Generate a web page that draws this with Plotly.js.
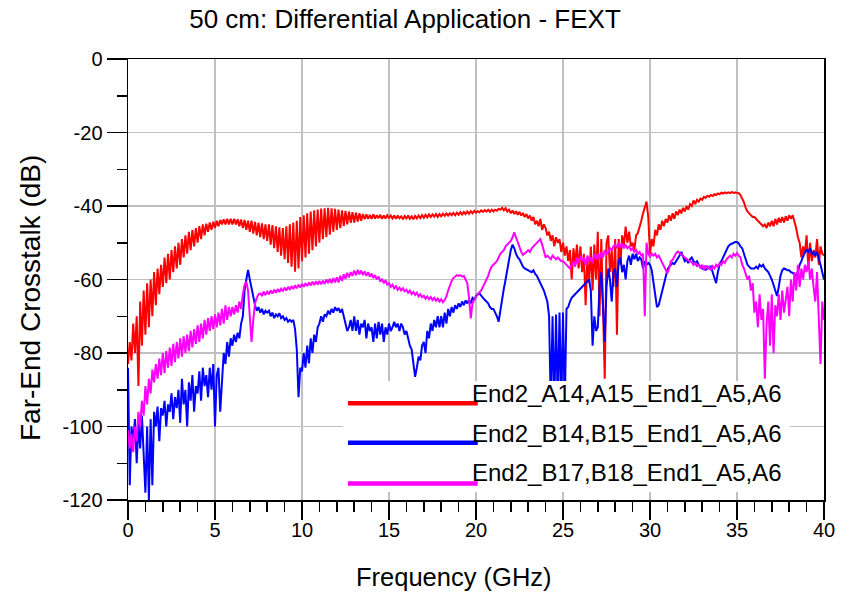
<!DOCTYPE html>
<html>
<head>
<meta charset="utf-8">
<script src="https://cdn.plot.ly/plotly-3.0.1.min.js"></script>
<style>
html,body{margin:0;padding:0;background:#fff;}
#chart{width:841px;height:594px;}
</style>
</head>
<body>
<div id="chart"></div>
<script>
// ---------- data ----------
const chartTitle = '50 cm: Differential Application - FEXT';
const xAxisTitle = 'Frequency (GHz)';
const yAxisTitle = 'Far-End Crosstalk (dB)';
const seriesNames = ['End2_A14,A15_End1_A5,A6', 'End2_B14,B15_End1_A5,A6', 'End2_B17,B18_End1_A5,A6'];
const seriesColors = ['#ff0000', '#0000ff', '#ff00ff'];

// frequency sampling grid: 0 to 40 GHz, 0.1 GHz step
const freqStart = 0, freqStep = 0.1, freqCount = 401;
const freq = [];
for (let i = 0; i < freqCount; i++) freq.push(+(freqStart + i * freqStep).toFixed(1));

// End2_A14,A15_End1_A5,A6 (dB), one row per GHz
const fextA14A15 = [
-83,-77,-82,-72,-80,-70,-89,-66,-78,-63,
-75,-61,-73,-60,-70,-58,-67,-57,-64,-56,
-62,-54,-61,-53,-60,-52,-58,-51,-57,-50,
-56,-49,-54,-48,-53,-47,-52,-46.5,-51,-46,
-50,-45.5,-49,-45,-48,-44.8,-47,-44.5,-46.5,-44.3,
-46,-44,-45.5,-43.8,-45,-43.6,-45,-43.5,-45,-43.5,
-45,-43.5,-45,-43.6,-45.5,-43.7,-46,-43.8,-46.5,-44,
-47,-44,-47.5,-44.3,-48,-44.5,-48.5,-44.7,-49,-45,
-49.5,-45,-50.5,-45.2,-51.5,-45.5,-52.5,-45.8,-53.5,-46,
-54.5,-45.5,-55.5,-45,-56.5,-44.5,-57.9,-44,-57,-43,
-55,-42.5,-54,-42,-53,-41.5,-52,-41.2,-51,-41,
-50,-40.7,-49,-40.6,-48.5,-40.5,-47.8,-40.6,-47,-40.8,
-46.5,-41,-46,-41.2,-45.5,-41.3,-45,-41.5,-44.6,-41.7,
-44.5,-41.8,-44.2,-42,-44,-42.2,-43.6,-42.3,-43.5,-42.4,
-43.5,-42.3,-43.4,-42.5,-43.3,-42.4,-43.5,-42.6,-43.4,-42.5,
-43.2,-42.6,-43.4,-42.6,-43.5,-42.7,-43.3,-42.8,-43.6,-42.7,
-43.4,-42.6,-43.5,-42.8,-43.6,-42.7,-43.4,-42.6,-43.3,-42.5,
-43.2,-42.4,-43.1,-42.3,-43,-42.3,-42.9,-42.2,-43,-42.2,
-42.8,-42.1,-42.7,-42,-42.6,-42,-42.5,-41.9,-42.5,-41.8,
-42.4,-41.7,-42.3,-41.6,-42.2,-41.5,-42.1,-41.4,-42,-41.3,
-41.8,-41.4,-41.7,-41.2,-41.6,-41.1,-41.5,-41,-41.6,-41,
-41.5,-41,-41.3,-40.8,-41,-40.5,-41.2,-40.6,-41.5,-41,
-42,-41.2,-42.2,-41.4,-42.4,-41.6,-42.6,-41.9,-43,-42.2,
-43.4,-42.6,-44,-43,-45,-44,-45.5,-43.5,-46.5,-45,
-46,-48,-47,-49.5,-48,-51,-48.5,-50,-49,-52.5,
-50,-53.5,-51,-55,-52,-60,-51.5,-56,-50.5,-57,
-51,-58,-53,-67,-54,-61,-51,-63,-50.5,-60,
-47,-70,-49,-68,-87,-50,-48,-58,-52,-62,
-49,-75,-49,-56,-48,-51,-45.6,-50,-47,-51,
-50,-52,-48,-47.4,-46,-44,-42,-40,-38.8,-43,
-53,-49,-51,-46.5,-48,-45,-46.5,-44,-45.5,-43.5,
-44.5,-42.5,-44,-42,-43.5,-41.5,-42.5,-41,-42,-40.5,
-41.5,-40,-41,-39.5,-40,-38.5,-39.5,-38.3,-38.8,-38,
-38.3,-37.5,-37.8,-37.2,-37.5,-37,-37.3,-36.8,-37,-36.6,
-36.8,-36.4,-36.6,-36.3,-36.5,-36.3,-36.5,-36.2,-36.4,-36.3,
-36.3,-36.5,-37,-37.8,-39,-40.5,-41.5,-42,-42.5,-43,
-43,-43.5,-44,-44.5,-45,-45.5,-45,-46,-44.5,-45.5,
-44,-45.5,-43.5,-45,-43.2,-44.5,-43,-44.5,-42.8,-44,
-42.5,-43.5,-42.5,-44,-46,-48.5,-50,-54,-51,-53,
-48,-57,-50,-55,-52,-54,-49,-56,-51,-53,
-53.5
];

// End2_B14,B15_End1_A5,A6 (dB)
const fextB14B15 = [
-84,-116,-100,-104,-98,-110,-99,-106,-97,-108,
-118,-100,-120,-98,-116,-96,-100,-94.6,-104,-95,
-97,-93,-100,-94,-96,-91,-98,-92,-95,-90,
-99,-87,-94,-90,-100,-88,-93,-86,-96,-89,
-91,-85,-93,-84,-89,-86,-92,-84,-90,-83,
-100,-86,-84,-96,-88,-80,-83,-77,-81,-76,
-78,-75,-77,-74.5,-76,-72,-70,-63,-60,-57.4,
-60,-62.5,-65,-67,-68.5,-67.5,-69,-68,-69.5,-68.5,
-69,-68.5,-70,-69,-70.5,-69.5,-70,-69.2,-70.5,-70,
-71,-70.5,-71.5,-71,-71.5,-71,-73.5,-79,-92,-84,
-85,-80,-84,-78,-82.8,-76,-80,-75,-77,-73,
-72,-70,-71.5,-69.5,-70,-68.5,-69.5,-68,-69,-67.5,
-68.5,-67.8,-69,-68,-70,-72,-74,-73,-71,-74,
-70,-74,-71,-75,-72,-73,-71,-76,-72,-74,
-73,-77,-72,-76,-71.5,-75,-72,-77,-73,-75,
-72,-74,-73,-71.5,-73,-72,-74,-72,-73,-75,
-74,-76,-78,-79,-83,-86.5,-84,-81,-82,-78,
-77,-80,-74,-76,-72,-74,-71,-73,-70,-73,
-70,-73,-69,-72,-68,-70,-67.5,-69,-67,-68,
-66.5,-67.5,-66,-67,-65.7,-66.5,-65.5,-66.5,-65,-65.5,
-64.5,-64,-63.8,-64.5,-65,-65.5,-66,-66.5,-67.5,-68,
-68,-69,-70,-71.5,-68,-65,-62.5,-60,-57,-54,
-52,-50.5,-51.5,-53,-54,-54.5,-55.5,-56.5,-57,-57.3,
-57.5,-57.8,-58,-57.5,-58.5,-59,-60,-61,-62,-63,
-64.5,-66,-70,-95,-70,-95,-69.5,-95,-69,-95,
-69,-95,-68,-67.5,-66,-65,-64.5,-64,-63.5,-63,
-62.5,-62,-61.5,-61,-60.5,-60,-63,-78,-70,-74,
-73,-62,-58,-67,-77,-62,-57,-60,-66,-58,
-57,-62,-55,-54,-58,-56,-60,-55,-53.5,-56,
-53,-54.5,-53,-55,-54,-54.5,-57,-55,-56,-55.5,
-56,-57.5,-61,-65,-67.5,-67,-65,-63,-61,-59,
-57.4,-56.5,-56,-55.5,-55.8,-55,-54.5,-53.5,-52.5,-54,
-55,-54.5,-55.5,-54.5,-54,-55,-55.5,-55,-56,-56.5,
-57,-56.5,-57.5,-56.5,-57,-56.5,-58,-59.5,-61,-58,
-56,-55,-54,-53,-52,-51,-50.5,-50.2,-50,-49.8,
-49.8,-50.2,-51,-51.5,-53,-54.5,-56,-56.5,-57,-57,
-57,-56.5,-57,-56,-56.5,-56,-57,-57.5,-58,-59,
-60,-61.5,-63,-64.5,-62,-59,-57.5,-57,-57.2,-57.5,
-57.5,-58,-58.2,-58.5,-59,-58,-56,-55,-53.5,-52.5,
-52,-52.5,-51.5,-53,-52.5,-53.5,-52.5,-54,-56,-58,
-60
];

// End2_B17,B18_End1_A5,A6 (dB)
const fextB17B18 = [
-101,-106,-102,-107,-100,-104,-96,-100,-93,-97,
-89,-94,-87,-91,-84.5,-88,-83,-87,-81.5,-86,
-80,-85.5,-79.5,-84,-78.5,-83.5,-77.5,-82.5,-77,-81.5,
-76,-81,-75.5,-80,-75,-79.5,-74,-78.5,-73.5,-77.5,
-72.5,-77,-72,-76,-71,-75,-70.5,-74,-70,-73.5,
-69.5,-73,-69,-72.5,-68,-72,-67,-71,-67.5,-70,
-67.5,-69.5,-67,-69,-66,-68,-64,-61.5,-60.6,-63,
-70,-77,-71,-66.5,-65,-64,-63.8,-64.5,-63.3,-64.2,
-63.3,-64,-63,-63.8,-62.8,-63.6,-62.6,-63.4,-62.5,-63.2,
-62.2,-63,-62,-62.8,-61.8,-62.6,-61.6,-62.4,-61.4,-62.2,
-61.2,-62,-61,-61.8,-60.8,-61.6,-60.6,-61.5,-60.5,-61.4,
-60.4,-61.3,-60.3,-61.2,-60,-61,-59.8,-61,-59.6,-60.8,
-59.4,-60.8,-59,-60.4,-58.6,-59.8,-58.2,-59.4,-58,-59,
-57.6,-58.8,-57.4,-58.6,-57.6,-58.8,-57.8,-59,-58,-59.2,
-58.4,-59.6,-58.8,-60,-59.2,-60.6,-59.8,-61,-60.2,-61.4,
-61,-62,-61.4,-62.4,-61.8,-62.8,-62.2,-63,-62.4,-63.2,
-62.8,-63.6,-63,-64,-63.4,-64.2,-63.6,-64.6,-64,-64.8,
-64.4,-65.2,-64.6,-65.4,-64.8,-65.6,-65,-65.8,-65.2,-66,
-65.4,-66.2,-65.6,-64.6,-63,-61.5,-60.4,-59.6,-59.2,-58.8,
-59,-58.8,-59.2,-59,-60,-61,-65,-70.6,-66.5,-65.5,
-64.7,-64,-63.5,-63,-62,-61,-60,-59,-57.5,-56.5,
-56,-55.5,-55,-54,-53,-52.5,-52,-51,-50.5,-50,
-49.5,-48.5,-47.2,-48.5,-50,-51.5,-52.5,-53.3,-53,-52.5,
-52,-52.5,-51.5,-51,-50.5,-50,-49.5,-49,-50.5,-52,
-54,-53.5,-54,-54.5,-53.5,-54,-54.5,-54,-54.5,-55,
-55,-55.5,-56,-56.5,-57,-56,-55,-56.5,-54,-55.5,
-53.5,-55,-54,-56,-53.5,-55,-54,-55.5,-53,-54.5,
-53,-54.5,-52.5,-54,-52,-53,-52.5,-51.5,-52,-51,
-50.5,-51.5,-50,-51,-50.5,-51.5,-50.5,-51.5,-51,-52,
-51.5,-52.5,-52,-53,-52.5,-53.5,-53,-70,-50,-53,
-53.8,-53,-53.5,-53,-54,-53.5,-54.5,-55.5,-56.5,-57.5,
-58.3,-57,-55,-54.7,-53.5,-52.8,-52.4,-52.8,-53.2,-53.6,
-54,-54.5,-54.8,-55,-55.3,-56,-55.5,-56.5,-55.8,-57,
-56,-57.5,-56.2,-57,-56.5,-57.5,-56.4,-57,-56,-56.5,
-55.5,-56,-55,-55.5,-54.5,-54,-53.5,-54,-53,-53.5,
-52.8,-53.5,-54,-56,-57,-58.5,-60,-59,-63,-61,
-69,-66,-73,-64,-71,-68,-87,-72,-66,-78,
-64,-80,-67,-70,-64,-71,-63,-69,-65,-62,
-70,-60,-66,-58,-63,-56,-62,-57,-60,-56,
-58,-55,-60,-57,-62,-66,-58,-69,-83,-66,
-71
];

const seriesValues = [fextA14A15, fextB14B15, fextB17B18];

// axis ticks
const xTickVals = [0, 5, 10, 15, 20, 25, 30, 35, 40];
const xTickText = ['0', '5', '10', '15', '20', '25', '30', '35', '40'];
const yTickVals = [0, -20, -40, -60, -80, -100, -120];
const yTickText = ['0', '-20', '-40', '-60', '-80', '-100', '-120'];

// ---------- chart ----------
const FONT = 'Arial, "Liberation Sans", sans-serif';

const traces = seriesValues.map((vals, i) => ({
  type: 'scatter',
  mode: 'lines',
  name: seriesNames[i],
  x: freq,
  y: vals,
  line: {color: seriesColors[i], width: 2},
  showlegend: false,
  hoverinfo: 'skip'
}));

// custom legend (long line samples with labels above their right end)
const legendBox = {x0: 12.36, x1: 38.05, y0: -117.8, y1: -87.6};
const legendLineX = [12.64, 20.1];
const legendLineY = [-93.7, -104.4, -115.5];
const legendTextX = 19.66;
const legendTextY = [-90.9, -101.8, -112.4];

const shapes = [{
  type: 'rect', xref: 'x', yref: 'y', layer: 'above',
  x0: legendBox.x0, x1: legendBox.x1, y0: legendBox.y0, y1: legendBox.y1,
  fillcolor: '#ffffff', line: {width: 0}
}];
seriesNames.forEach((n, i) => {
  shapes.push({
    type: 'line', xref: 'x', yref: 'y', layer: 'above',
    x0: legendLineX[0], x1: legendLineX[1], y0: legendLineY[i], y1: legendLineY[i],
    line: {color: seriesColors[i], width: 4.5}
  });
});

const annotations = seriesNames.map((n, i) => ({
  xref: 'x', yref: 'y', x: legendTextX, y: legendTextY[i],
  text: n, showarrow: false, xanchor: 'left', yanchor: 'middle',
  font: {family: FONT, size: 24, color: '#000'}
}));
annotations.push({
  xref: 'paper', yref: 'paper', x: (454 - 128) / 696, y: (500 - 577) / 441,
  text: xAxisTitle, showarrow: false, xanchor: 'center', yanchor: 'middle',
  font: {family: FONT, size: 25.5, color: '#000'}
});
annotations.push({
  xref: 'paper', yref: 'paper', x: (30 - 128) / 696, y: (500 - 298) / 441,
  text: yAxisTitle, showarrow: false, textangle: -90, xanchor: 'center', yanchor: 'middle',
  font: {family: FONT, size: 28, color: '#000'}
});

const axisCommon = {
  showline: true, linecolor: '#000', linewidth: 1.5, mirror: true,
  showgrid: true, gridcolor: '#c0c0c0', gridwidth: 1.5,
  zeroline: false, ticks: 'outside', tickcolor: '#000', tickwidth: 1.5,
  tickfont: {family: FONT, size: 20, color: '#000'},
  fixedrange: true
};

const layout = {
  width: 841, height: 594,
  margin: {l: 128, r: 17, t: 59, b: 94, pad: 0},
  paper_bgcolor: '#ffffff', plot_bgcolor: '#ffffff',
  font: {family: FONT, color: '#000'},
  title: {
    text: chartTitle, xref: 'container', yref: 'container',
    x: 405 / 841, xanchor: 'center', y: 1 - 19 / 594, yanchor: 'middle',
    font: {family: FONT, size: 26, color: '#000'}
  },
  xaxis: Object.assign({}, axisCommon, {
    range: [0, 40], tickmode: 'array', tickvals: xTickVals, ticktext: xTickText,
    ticklen: 18, ticklabelstandoff: -7,
    minor: {tickmode: 'linear', tick0: 0, dtick: 1, ticks: 'outside', ticklen: 10,
            tickcolor: '#000', tickwidth: 1.5, showgrid: false}
  }),
  yaxis: Object.assign({}, axisCommon, {
    range: [-120, 0], tickmode: 'array', tickvals: yTickVals, ticktext: yTickText,
    ticklen: 20,
    minor: {tickmode: 'linear', tick0: 0, dtick: 10, ticks: 'outside', ticklen: 10,
            tickcolor: '#000', tickwidth: 1.5, showgrid: false}
  }),
  shapes: shapes,
  annotations: annotations,
  showlegend: false
};

Plotly.newPlot('chart', traces, layout, {staticPlot: true, displayModeBar: false});
</script>
</body>
</html>
